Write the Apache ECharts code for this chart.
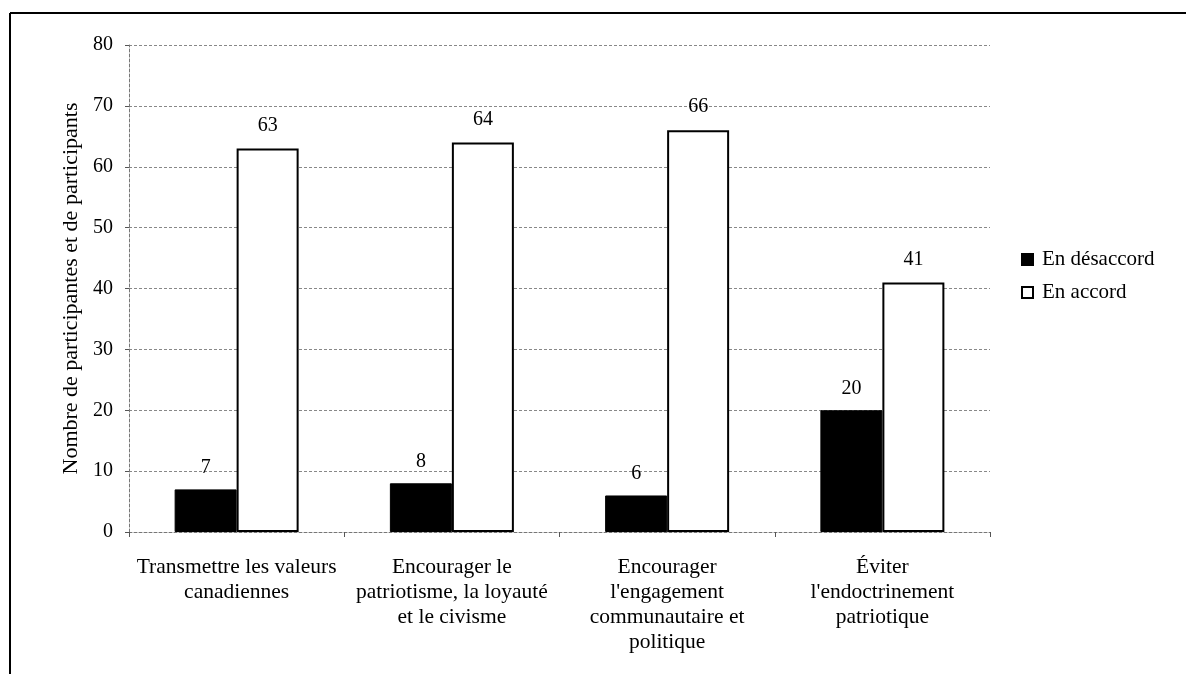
<!DOCTYPE html>
<html>
<head>
<meta charset="utf-8">
<script src="https://cdn.jsdelivr.net/npm/echarts@6/dist/echarts.min.js"></script>
<style>
html,body{margin:0;padding:0;background:#fff;}
#chart{width:1186px;height:674px;}
</style>
</head>
<body>
<div id="chart"></div>
<script>
// Répartition des réponses par énoncé
const categories = [
  'Transmettre les valeurs\ncanadiennes',
  'Encourager le\npatriotisme, la loyauté\net le civisme',
  'Encourager\nl\'engagement\ncommunautaire et\npolitique',
  'Éviter\nl\'endoctrinement\npatriotique'
];
const desaccord = [7, 8, 6, 20];
const accord = [63, 64, 66, 41];
const yTicks = { min: 0, max: 80, interval: 10 };

const FONT = '"Liberation Serif", "DejaVu Serif", serif';
const chart = echarts.init(document.getElementById('chart'));

chart.setOption({
  backgroundColor: '#fff',
  animation: false,
  textStyle: { fontFamily: FONT, color: '#000' },
  graphic: [
    { type: 'line', shape: { x1: 10, y1: 13, x2: 1186, y2: 13 }, style: { stroke: '#000', lineWidth: 2 } },
    { type: 'line', shape: { x1: 10, y1: 13, x2: 10, y2: 674 }, style: { stroke: '#000', lineWidth: 2 } }
  ],
  grid: { left: 129, top: 45, width: 861, height: 487, containLabel: false },
  legend: {
    orient: 'vertical',
    left: 1016,
    top: 244,
    itemWidth: 11,
    itemHeight: 11,
    itemGap: 12,
    textStyle: { fontFamily: FONT, fontSize: 21, color: '#000', padding: [0, 0, 0, 4] },
    data: [
      { name: 'En désaccord', icon: 'rect' },
      { name: 'En accord', icon: 'rect' }
    ]
  },
  xAxis: {
    type: 'category',
    data: categories,
    axisLine: { lineStyle: { color: '#777', type: [3, 2], width: 1 } },
    axisTick: { show: true, length: 5, lineStyle: { color: '#555' } },
    axisLabel: { interval: 0, fontFamily: FONT, fontSize: 21.5, color: '#000', lineHeight: 25, margin: 23 }
  },
  yAxis: {
    type: 'value',
    min: yTicks.min,
    max: yTicks.max,
    interval: yTicks.interval,
    name: 'Nombre de participantes et de participants',
    nameLocation: 'middle',
    nameGap: 46,
    nameTextStyle: { fontFamily: FONT, fontSize: 22, color: '#000' },
    axisLine: { show: true, lineStyle: { color: '#777', type: [3, 2] } },
    axisTick: { show: true, length: 4, lineStyle: { color: '#555' } },
    axisLabel: { fontFamily: FONT, fontSize: 20, color: '#000', margin: 16 },
    splitLine: { show: true, lineStyle: { color: '#888', type: [3, 2], width: 1 } }
  },
  series: [
    {
      name: 'En désaccord',
      type: 'bar',
      data: desaccord,
      barWidth: 62,
      barGap: '0%',
      itemStyle: { color: '#000', borderColor: '#000', borderWidth: 1 },
      label: { show: true, position: 'top', distance: 12, fontFamily: FONT, fontSize: 20, color: '#000' }
    },
    {
      name: 'En accord',
      type: 'bar',
      data: accord,
      barWidth: 62,
      barGap: '0%',
      itemStyle: { color: '#fff', borderColor: '#000', borderWidth: 2 },
      label: { show: true, position: 'top', distance: 13, fontFamily: FONT, fontSize: 20, color: '#000' }
    }
  ]
});
</script>
</body>
</html>
